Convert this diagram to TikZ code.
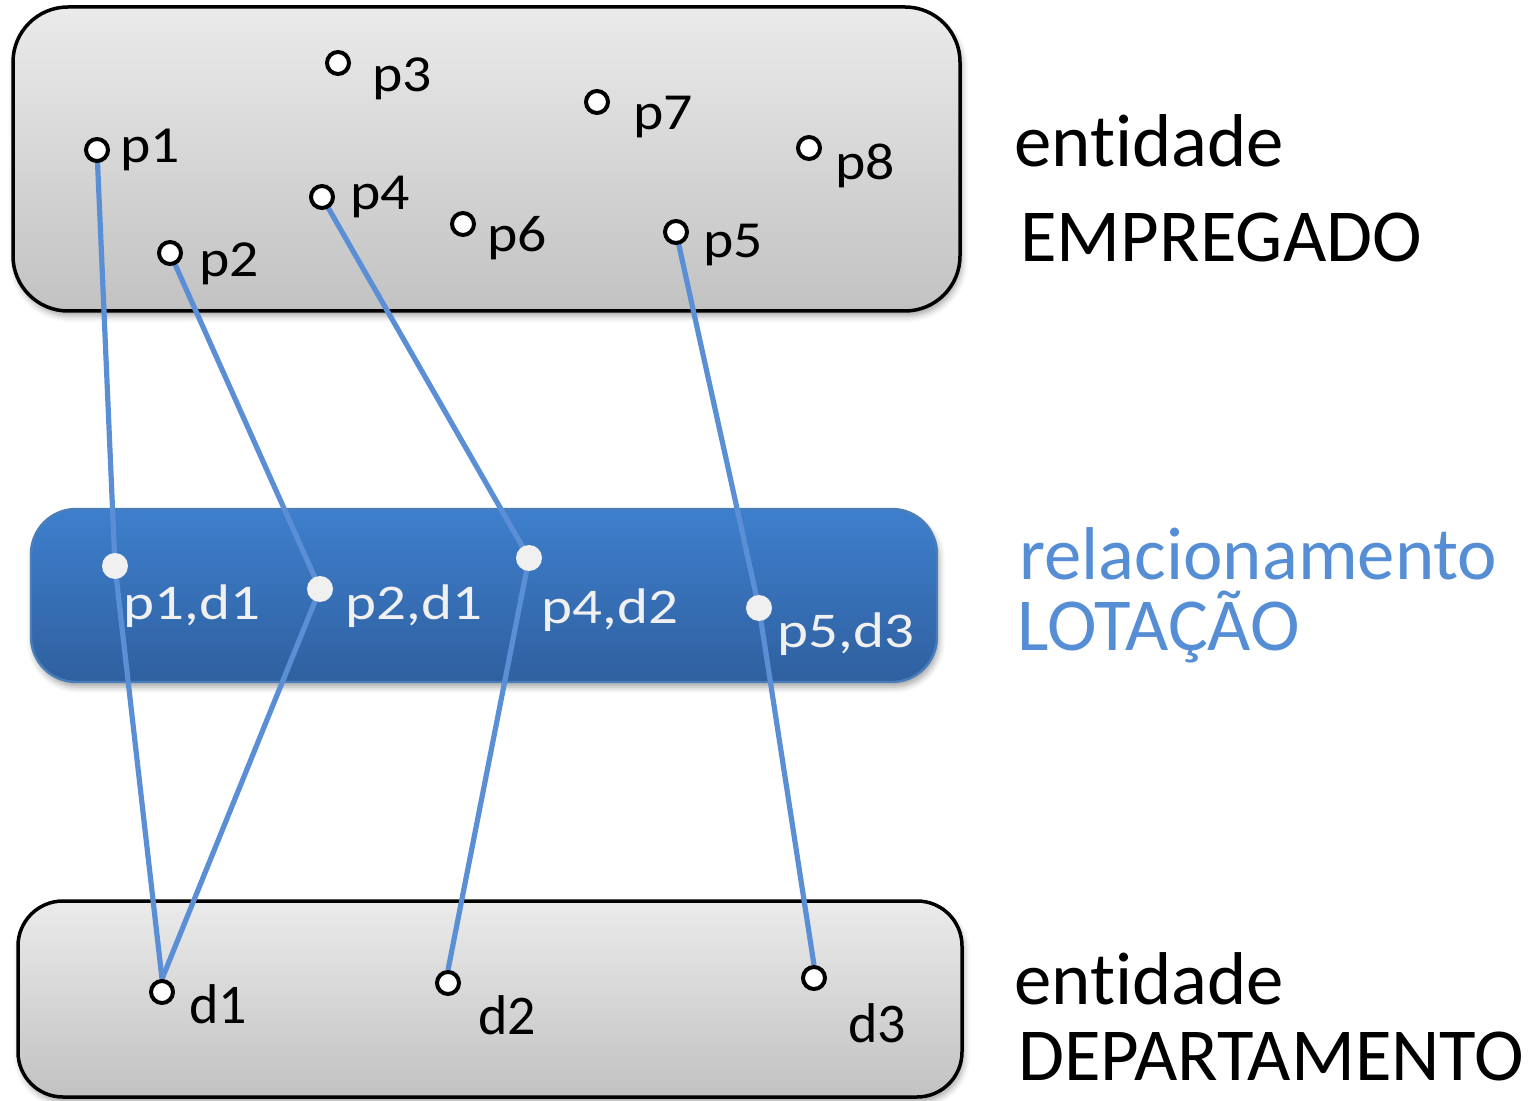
\documentclass[tikz,border=0pt]{standalone}
\usepackage{fontspec}
\setmainfont{Carlito}[Ligatures=NoCommon]
\newfontfamily\widelab{Carlito}[Ligatures=NoCommon, FakeStretch=1.11]
\newfontfamily\widerlab{Carlito}[Ligatures=NoCommon, FakeStretch=1.18]
\usetikzlibrary{shadows.blur}
\definecolor{linkblue}{HTML}{5A8FD6}
\definecolor{relblue}{HTML}{558ED5}
\definecolor{reltop}{HTML}{3E7FCD}
\definecolor{relbot}{HTML}{2F609F}
\definecolor{relrim}{HTML}{4A7EBB}
\definecolor{dotgray}{HTML}{F0F0F0}
\pgfdeclarelayer{bg}
\pgfdeclarelayer{links}
\pgfsetlayers{bg,links,main}
\begin{document}
\begin{tikzpicture}[x=0.5pt,y=-0.5pt,
  softshadow/.style={blur shadow={shadow xshift=1pt, shadow yshift=-2.5pt,
      shadow blur radius=3pt, shadow opacity=35}},
  entbox/.style={rectangle, draw=black, line width=1.75pt,
      top color=black!8, bottom color=black!24, softshadow, inner sep=0pt},
  relbox/.style={rectangle, draw=relrim, line width=1.2pt, rounded corners=22.5pt,
      top color=reltop, bottom color=relbot, softshadow, inner sep=0pt},
  entdot/.style={circle, draw=black, line width=2pt, fill=white,
      minimum size=11pt, inner sep=0pt},
  reldot/.style={circle, fill=dotgray, minimum size=13pt, inner sep=0pt},
  plab/.style={anchor=base west, inner sep=0pt, font=\widelab\fontsize{26}{30}\selectfont},
  dlab/.style={anchor=base west, inner sep=0pt, font=\fontsize{28}{32}\selectfont},
  rlab/.style={anchor=base west, inner sep=0pt, text=dotgray,
      font=\widerlab\fontsize{25}{30}\selectfont},
  side/.style={anchor=base west, inner sep=0pt, font=\fontsize{37.4}{44}\selectfont},
  link/.style={draw=linkblue, line width=2.6pt}
]
\useasboundingbox (0,0) rectangle (1538,1101);

% containers
\begin{pgfonlayer}{bg}
\node[entbox, rounded corners=27.5pt, minimum width=473.5pt, minimum height=152pt]
  (emp) at (486.5,159) {};
\node[relbox, minimum width=453pt, minimum height=86.5pt] (lot) at (484,595.5) {};
\node[entbox, rounded corners=22.5pt, minimum width=472pt, minimum height=98pt]
  (dep) at (490,999) {};
\end{pgfonlayer}

% employees
\node[entdot] (p1) at (97,150) {};
\node[entdot] (p2) at (170,253) {};
\node[entdot] (p3) at (338,63) {};
\node[entdot] (p4) at (322,197) {};
\node[entdot] (p5) at (676,232) {};
\node[entdot] (p6) at (463,224) {};
\node[entdot] (p7) at (597,102) {};
\node[entdot] (p8) at (809,148) {};
\node[plab] (lp1) at (120,163) {p1};
\node[plab] (lp2) at (199,277) {p2};
\node[plab] (lp3) at (372,92) {p3};
\node[plab] (lp4) at (350,210) {p4};
\node[plab] (lp5) at (703,258) {p5};
\node[plab] (lp6) at (487,252) {p6};
\node[plab] (lp7) at (633,130) {p7};
\node[plab] (lp8) at (835,180) {p8};

% relationship pairs
\node[reldot] (r11) at (115,566) {};
\node[reldot] (r21) at (320,589) {};
\node[reldot] (r42) at (529,558) {};
\node[reldot] (r53) at (759,608) {};
\node[rlab] (lr11) at (123,620) {p1,d1};
\node[rlab] (lr21) at (345,620) {p2,d1};
\node[rlab] (lr42) at (541,624) {p4,d2};
\node[rlab] (lr53) at (777,647) {p5,d3};

% departments
\node[entdot] (d1) at (162,992) {};
\node[entdot] (d2) at (448,983) {};
\node[entdot] (d3) at (814,978) {};
\node[dlab] (ld1) at (189,1023) {d1};
\node[dlab] (ld2) at (478,1034) {d2};
\node[dlab] (ld3) at (848,1042) {d3};

% side captions
\node[side] (c1) at (1014,167) {entidade};
\node[side] (c2) at (1020,262) {EMPREGADO};
\node[side, text=relblue] (c3) at (1019,580) {relacionamento};
\node[side, text=relblue] (c4) at (1017,651) {LOTAÇÃO};
\node[side] (c5) at (1014,1004) {entidade};
\node[side] (c6) at (1018,1080) {DEPARTAMENTO};

% links
\begin{pgfonlayer}{links}
\draw[link] (p1.center) -- (r11.center) -- (d1.north);
\draw[link] (p2.center) -- (r21.center) -- (d1.north);
\draw[link] (p4.center) -- (r42.center) -- (d2.north);
\draw[link] (p5.center) -- (r53.center) -- (d3.north);
\end{pgfonlayer}
\end{tikzpicture}
\end{document}
